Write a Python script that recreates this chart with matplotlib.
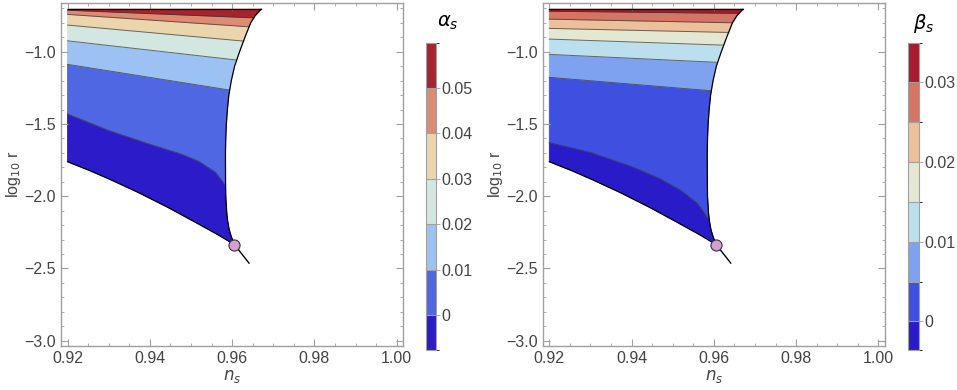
import numpy as np
import matplotlib.pyplot as plt
from matplotlib.colors import ListedColormap, BoundaryNorm
from matplotlib.cm import ScalarMappable
from matplotlib.ticker import MultipleLocator

plt.rcParams['font.family'] = ['Liberation Sans', 'DejaVu Sans']
plt.rcParams['mathtext.fontset'] = 'dejavusans'

# allowed region (same in both panels)
top_y = -0.705
right_x = [0.96056, 0.9598, 0.9593, 0.9589, 0.9587, 0.95845, 0.9584, 0.95838, 0.95845,
           0.9586, 0.95885, 0.9592, 0.9598, 0.9606, 0.9618, 0.9631, 0.9645, 0.9656, 0.96706]
right_y = [-2.335, -2.28, -2.233, -2.17, -2.118, -2.0, -1.887, -1.7, -1.6,
           -1.5, -1.4, -1.3, -1.2, -1.1, -1.0, -0.9, -0.8, -0.75, -0.705]
bottom_x = [0.92, 0.92537, 0.9306, 0.93742, 0.94465, 0.95188, 0.9567, 0.96056]
bottom_y = [-1.761, -1.822, -1.887, -1.977, -2.081, -2.193, -2.269, -2.335]
tail_x = [0.96056, 0.9641]
tail_y = [-2.335, -2.463]
point_x, point_y = 0.96056, -2.335

# contour lines, bottom to top (alpha_s)
alpha_lines = [
    ([0.92, 0.93, 0.94, 0.948, 0.952, 0.956, 0.9584],
     [-1.431, -1.545, -1.640, -1.712, -1.760, -1.835, -1.925]),
    ([0.92, 0.9594], [-1.087, -1.265]),
    ([0.92, 0.9611], [-0.924, -1.057]),
    ([0.92, 0.9628], [-0.815, -0.926]),
    ([0.92, 0.9641], [-0.741, -0.827]),
    ([0.92, 0.9653], [-0.712, -0.765]),
]
alpha_colors = ['#2b1bc9', '#4f67e2', '#9cc2f3', '#d3e7e2', '#ebd5ad', '#dd8b72', '#a9232e']
alpha_bounds = [-0.0077, 0, 0.01, 0.02, 0.03, 0.04, 0.05, 0.06]
alpha_ticks = [0, 0.01, 0.02, 0.03, 0.04, 0.05]
alpha_ticklabels = ['0', '0.01', '0.02', '0.03', '0.04', '0.05']

# contour lines, bottom to top (beta_s)
beta_lines = [
    ([0.92, 0.93, 0.94, 0.947, 0.952, 0.956, 0.9589],
     [-1.629, -1.697, -1.795, -1.880, -1.960, -2.050, -2.164]),
    ([0.92, 0.9594], [-1.177, -1.270]),
    ([0.92, 0.9609], [-1.018, -1.073]),
    ([0.92, 0.9624], [-0.912, -0.954]),
    ([0.92, 0.9636], [-0.838, -0.866]),
    ([0.92, 0.9645], [-0.774, -0.799]),
    ([0.92, 0.9661], [-0.719, -0.734]),
]
beta_colors = ['#2a1bc8', '#3f4fe0', '#7fa2f0', '#bcdfee', '#e4e8d2', '#ecc09a', '#d47566', '#a61c2e']
beta_bounds = [-0.0036, 0, 0.005, 0.01, 0.015, 0.02, 0.025, 0.03, 0.035]
beta_ticks = [0, 0.01, 0.02, 0.03]
beta_ticklabels = ['0', '0.01', '0.02', '0.03']

gray = '#a0a0a0'
txt = '#444444'

rx = np.array(right_x)
ry = np.array(right_y)


def band(ax, lo, hi, color):
    lo_x, lo_y = np.asarray(lo[0]), np.asarray(lo[1])
    hi_x, hi_y = np.asarray(hi[0]), np.asarray(hi[1])
    m = (ry > lo_y[-1]) & (ry < hi_y[-1])
    xs = np.concatenate([lo_x, rx[m], hi_x[::-1]])
    ys = np.concatenate([lo_y, ry[m], hi_y[::-1]])
    ax.fill(xs, ys, color=color, lw=0.6, ec=color)


def panel(ax, lines, colors):
    edges = [(bottom_x, bottom_y)] + lines + [([0.92, right_x[-1]], [top_y, top_y])]
    for i, c in enumerate(colors):
        band(ax, edges[i], edges[i + 1], c)
    for lx, ly in lines:
        ax.plot(lx, ly, color='#333333', lw=0.7, alpha=0.7)
    ax.plot(bottom_x, bottom_y, color='black', lw=0.9)
    ax.plot(right_x, right_y, color='black', lw=0.9)
    ax.plot([0.92, right_x[-1]], [top_y, top_y], color='black', lw=0.9)
    ax.plot(tail_x, tail_y, color='black', lw=1.0)
    ax.plot(point_x, point_y, 'o', ms=8, mfc='#d79ed6', mec='#333333', mew=0.8)

    ax.set_xlim(0.9184, 1.0016)
    ax.set_ylim(-3.035, -0.66)
    ax.xaxis.set_major_locator(MultipleLocator(0.02))
    ax.xaxis.set_minor_locator(MultipleLocator(0.005))
    ax.yaxis.set_major_locator(MultipleLocator(0.5))
    ax.yaxis.set_minor_locator(MultipleLocator(0.1))
    ax.set_xticks([0.92, 0.94, 0.96, 0.98, 1.00])
    ax.set_xticklabels(['0.92', '0.94', '0.96', '0.98', '1.00'])
    ax.tick_params(which='both', direction='in', top=True, right=True,
                   color=gray, labelcolor=txt, labelsize=11.5)
    ax.tick_params(which='major', length=5, width=0.8)
    ax.tick_params(which='minor', length=2.5, width=0.6)
    for s in ax.spines.values():
        s.set_color(gray)
        s.set_linewidth(1.0)
    ax.set_xlabel('$n_s$', color=txt, fontsize=12, labelpad=2)
    ax.set_ylabel(r'log$_{10}$ r', color=txt, fontsize=11.5, labelpad=1)


def cbar(fig, rect, colors, bounds, ticks, labels, title, tx):
    cax = fig.add_axes(rect)
    cmap = ListedColormap(colors)
    norm = BoundaryNorm(bounds, cmap.N)
    cb = fig.colorbar(ScalarMappable(norm=norm, cmap=cmap), cax=cax,
                      boundaries=bounds, spacing='proportional',
                      ticks=ticks, drawedges=True)
    cb.set_ticklabels(labels)
    cb.outline.set_edgecolor(gray)
    cb.outline.set_linewidth(0.8)
    cb.dividers.set_color(gray)
    cb.dividers.set_linewidth(0.8)
    cax.tick_params(length=3, width=0.6, color=gray, labelcolor=txt,
                    labelsize=11.5, pad=1)
    fig.text(tx, 0.941, title, fontsize=14, ha='center', va='center')


fig = plt.figure(figsize=(9.57, 3.90), dpi=100)
ax1 = fig.add_axes([0.0637, 0.1136, 0.3577, 0.8795])
ax2 = fig.add_axes([0.5671, 0.1136, 0.3577, 0.8795])

panel(ax1, alpha_lines, alpha_colors)
panel(ax2, beta_lines, beta_colors)

cbar(fig, [0.4451, 0.1026, 0.0105, 0.788], alpha_colors, alpha_bounds,
     alpha_ticks, alpha_ticklabels, r'$\alpha_s$', 0.468)
cbar(fig, [0.9491, 0.1026, 0.0112, 0.788], beta_colors, beta_bounds,
     beta_ticks, beta_ticklabels, r'$\beta_s$', 0.965)

fig.savefig('out.png', dpi=100)
